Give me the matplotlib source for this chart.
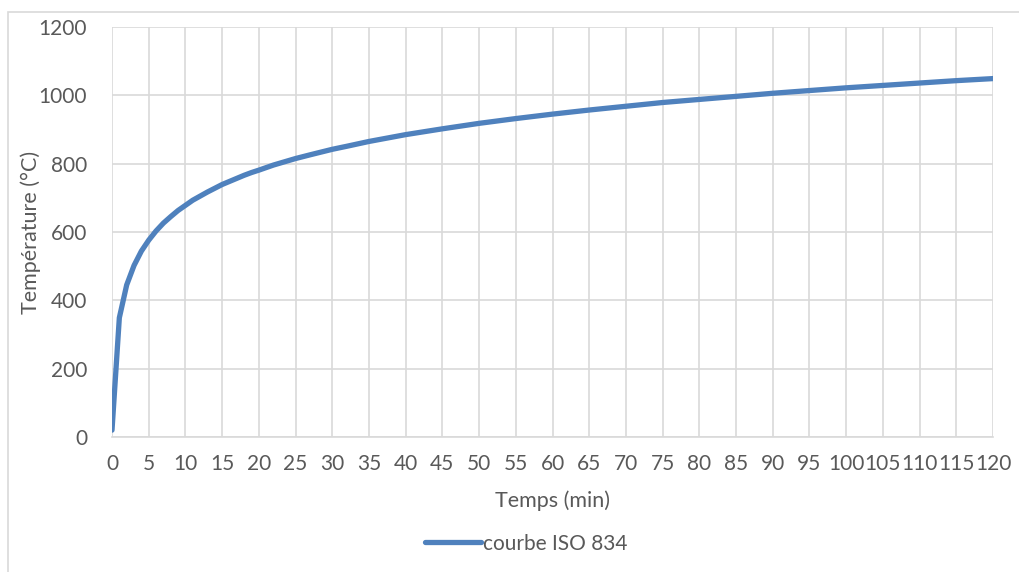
import numpy as np
import matplotlib.pyplot as plt
from matplotlib.patches import Rectangle

# temps (min) et temperature (C)
temps = [0, 1, 2, 3, 4, 5, 6, 7, 8, 9, 10, 11, 12, 13, 14, 15, 16, 17, 18, 19, 20,
         22, 25, 27, 30, 32, 35, 40, 45, 50, 55, 60,
         65, 70, 75, 80, 85, 90, 95, 100, 105, 110, 115, 120]
temperature = [20, 349, 445, 502, 544, 576, 603, 626, 645, 663, 678, 693, 705, 717, 728,
               739, 748, 757, 766, 774, 781, 796, 815, 826, 842, 851, 865,
               885, 902, 918, 932, 945, 957, 968, 979, 988, 997, 1006, 1014, 1022, 1029,
               1036, 1043, 1049]

xticks = list(range(0, 121, 5))
yticks = [0, 200, 400, 600, 800, 1000, 1200]

plt.rcParams['font.family'] = ['Lato', 'DejaVu Sans']
TXT = '#595959'
GRID = '#D9D9D9'

fig = plt.figure(figsize=(10.19, 5.72), dpi=100)
ax = fig.add_axes([112/1019, 1-437/572, (993-112)/1019, (437-27)/572])

ax.plot(temps, temperature, color='#4F81BD', lw=3.8, solid_capstyle='round',
        label='courbe ISO 834', zorder=3)

ax.set_xlim(0, 120)
ax.set_ylim(0, 1200)
ax.set_xticks(xticks)
ax.set_yticks(yticks)
ax.grid(True, color=GRID, lw=1.2)
ax.set_axisbelow(True)
for s in ['top', 'right', 'left']:
    ax.spines[s].set_visible(False)
ax.spines['bottom'].set_color(GRID)
ax.spines['bottom'].set_linewidth(1.2)
ax.tick_params(length=0, labelsize=15, colors=TXT, pad=12)
ax.tick_params(axis='y', pad=18)

ax.set_xlabel('Temps (min)', fontsize=15.5, color=TXT, labelpad=12)
ax.set_ylabel('Température (°C)', fontsize=15.5, color=TXT)
ax.yaxis.set_label_coords(-0.081, 0.5)

leg = ax.legend(loc='center', bbox_to_anchor=(0.47, -0.26), frameon=False,
                fontsize=15, handlelength=2.7, handletextpad=0.1)
for t in leg.get_texts():
    t.set_color(TXT)

# cadre du graphique
fig.patches.append(Rectangle((8/1019, -0.1), 1.2, 1-12/572+0.1, transform=fig.transFigure,
                             fill=False, edgecolor=GRID, lw=1.2))

fig.savefig('out.png', dpi=100)
